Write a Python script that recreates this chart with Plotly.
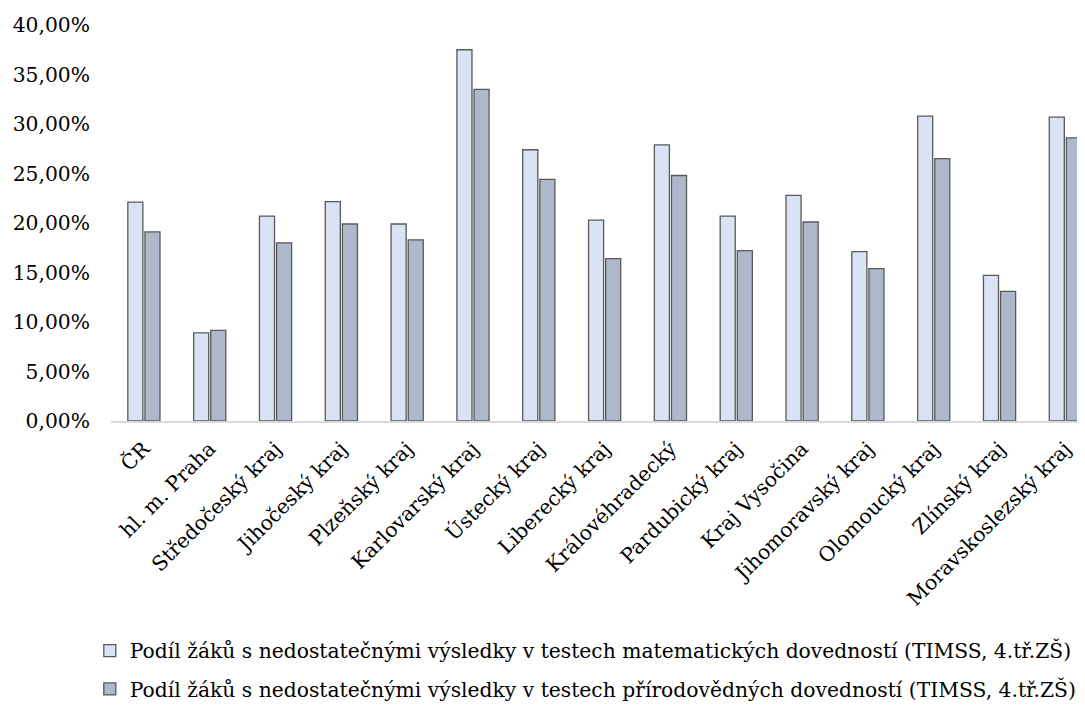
import plotly.graph_objects as go

categories = ["ČR", "hl. m. Praha", "Středočeský kraj", "Jihočeský kraj", "Plzeňský kraj",
              "Karlovarský kraj", "Ústecký kraj", "Liberecký kraj", "Královéhradecký",
              "Pardubický kraj", "Kraj Vysočina", "Jihomoravský kraj", "Olomoucký kraj",
              "Zlínský kraj", "Moravskoslezský kraj"]
math_share = [0.221, 0.089, 0.207, 0.2215, 0.199, 0.375, 0.274, 0.203, 0.279,
              0.207, 0.228, 0.171, 0.308, 0.147, 0.307]
science_share = [0.191, 0.0915, 0.180, 0.199, 0.183, 0.335, 0.244, 0.164, 0.248,
                 0.172, 0.201, 0.154, 0.265, 0.131, 0.286]
series_names = [
    "Podíl žáků s nedostatečnými výsledky v testech matematických dovedností (TIMSS, 4.tř.ZŠ)",
    "Podíl žáků s nedostatečnými výsledky v testech přírodovědných dovedností (TIMSS, 4.tř.ZŠ)",
]
y_ticks = [0, 0.05, 0.10, 0.15, 0.20, 0.25, 0.30, 0.35, 0.40]

FONT = "DejaVu Serif"
FS = 20.3
fig = go.Figure()
fig.add_trace(go.Bar(x=categories, y=math_share, name=series_names[0],
                     marker=dict(color="#DAE3F3", line=dict(color="#595959", width=1.3)),
                     legendgroup="a"))
fig.add_trace(go.Bar(x=categories, y=science_share, name=series_names[1],
                     marker=dict(color="#ADB9CA", line=dict(color="#595959", width=1.3)),
                     legendgroup="b"))

fig.update_layout(
    width=1085, height=706,
    margin=dict(l=103, r=0, t=17, b=293, autoexpand=False),
    paper_bgcolor="white", plot_bgcolor="white",
    separators=", ",
    barmode="group", bargap=0.48, bargroupgap=0.12,
    font=dict(family=FONT, size=FS, color="#000000"),
    showlegend=True,
    legend=dict(orientation="v", x=-0.0216, xanchor="left", y=-0.530, yanchor="top",
                traceorder="grouped", tracegroupgap=9,
                font=dict(family=FONT, size=FS, color="#000000"),
                itemwidth=30),
    xaxis=dict(range=[-0.5, 14.42], tickangle=-45, showgrid=False, showline=True,
               linecolor="#D9D9D9", linewidth=1.5, ticks="", automargin=False,
               ticklabelstandoff=6, tickfont=dict(family=FONT, size=FS)),
    yaxis=dict(range=[0, 0.40], tickvals=y_ticks, tickformat=".2%", showgrid=False,
               zeroline=False, showline=False, ticks="", ticklabelstandoff=20,
               automargin=False, tickfont=dict(family=FONT, size=FS)),
)
fig.write_html("out.html")
